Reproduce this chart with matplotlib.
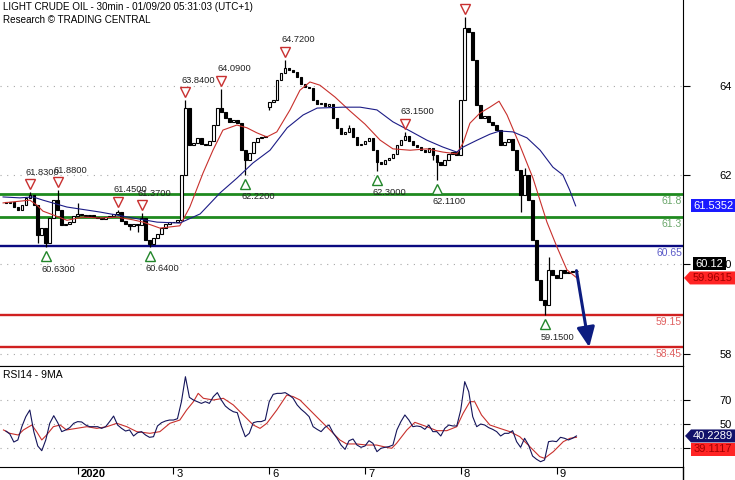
import matplotlib
matplotlib.use("Agg")
import matplotlib.pyplot as plt
import numpy as np
from matplotlib.lines import Line2D
from matplotlib.patches import Polygon
from matplotlib.transforms import IdentityTransform, offset_copy

plt.rcParams["font.family"] = ["Liberation Sans", "DejaVu Sans"]

W, H, DPI = 735, 480, 100

TITLE = "LIGHT CRUDE OIL - 30min - 01/09/20 05:31:03 (UTC+1)"
SUBTITLE = "Research \u00a9 TRADING CENTRAL"
RSI_TITLE = "RSI14 - 9MA"

# hourly bars, hour 0 = start of the "2020" session
FIRST_BAR = -18
FIRST_OPEN = 61.62
close = [
    61.60, 61.62, 61.51, 61.45, 61.55, 61.71, 61.77, 61.55, 60.90, 61.05, 60.72, 61.27,
    61.66, 61.45, 61.12, 61.14, 61.18, 61.31, 61.36, 61.34, 61.31, 61.34, 61.29, 61.27,
    61.25, 61.29, 61.31, 61.36, 61.40, 61.20, 61.14, 61.10, 61.14, 61.12, 61.27, 60.79,
    60.70, 60.83, 60.92, 61.05, 61.14, 61.18, 61.18, 61.23, 62.21, 63.67, 62.86, 62.91,
    63.02, 62.89, 62.86, 62.95, 63.30, 63.67, 63.58, 63.45, 63.37, 63.41, 63.34, 62.75,
    62.54, 62.69, 62.93, 63.02, 63.04, 63.06, 63.80, 63.85, 64.28, 64.44, 64.55, 64.50,
    64.46, 64.35, 64.20, 64.13, 64.11, 63.85, 63.76, 63.78, 63.72, 63.76, 63.45, 63.24,
    63.10, 63.15, 63.24, 63.04, 62.86, 62.89, 62.95, 63.02, 62.75, 62.49, 62.45, 62.54,
    62.58, 62.67, 62.86, 62.97, 63.06, 62.95, 62.86, 62.82, 62.75, 62.71, 62.80, 62.65,
    62.49, 62.43, 62.54, 62.67, 62.71, 62.65, 63.85, 65.42, 65.33, 64.72, 63.74, 63.45,
    63.50, 63.37, 63.30, 63.19, 62.86, 62.93, 63.00, 62.75, 62.32, 61.77, 62.21, 61.66,
    60.79, 59.92, 59.48, 59.37, 60.13, 60.03, 59.96, 60.13, 60.07, 60.09, 60.11, 60.12,
]
gap_open = {48: 63.70}
wick_high = {-12: 61.83, -5: 61.88, 0: 61.60, 10: 61.45, 16: 61.37, 27: 63.84, 36: 64.09,
             52: 64.72, 68: 63.30, 82: 63.15, 97: 65.66, 112: 62.36, 118: 60.42}
wick_low = {-10: 60.72, -8: 60.63, 13: 61.01, 15: 60.96, 18: 60.64, 42: 62.22, 48: 63.63,
            75: 62.30, 89: 62.54, 90: 62.11, 111: 61.40, 117: 59.15}

red_ma_t = [-18.7, -12.0, -10.2, -8.7, -5.0, -2.7, 1.3, 5.6, 9.8, 13.9, 16.4, 20.6, 25.6,
            28.1, 31.4, 33.9, 36.4, 39.9, 42.4, 44.9, 47.4, 49.9, 53.2, 55.7, 58.2, 60.7,
            64.5, 68.2, 72.0, 75.8, 79.0, 83.3, 87.5, 91.5, 95.0, 96.6, 98.3, 100.8, 103.3,
            105.6, 107.6, 110.8, 114.1, 117.6, 120.1, 122.6, 125.1]
red_ma = [61.60, 61.66, 61.55, 61.42, 61.30, 61.22, 61.29, 61.27, 61.29, 61.23, 61.18, 61.05,
          61.10, 61.51, 62.25, 62.75, 63.19, 63.30, 63.24, 63.13, 63.04, 63.15, 63.63, 64.06,
          64.24, 64.17, 63.91, 63.61, 63.32, 62.97, 62.78, 62.75, 62.78, 62.71, 62.67, 62.91,
          63.34, 63.56, 63.69, 63.82, 63.52, 62.86, 62.14, 61.18, 60.64, 60.14, 59.9615]
blue_ma_t = [-18.7, -14.5, -11.2, -8.7, -2.7, 5.6, 13.9, 19.9, 25.6, 30.7, 35.7, 39.9, 43.9,
             48.2, 52.5, 56.5, 60.0, 66.5, 70.8, 75.0, 79.0, 83.3, 87.5, 91.5, 95.0, 96.6,
             100.1, 103.3, 105.8, 109.1, 112.6, 115.9, 119.1, 121.6, 123.3, 124.8]
blue_ma = [61.73, 61.71, 61.73, 61.66, 61.51, 61.40, 61.27, 61.18, 61.16, 61.36, 61.82, 62.14,
           62.47, 62.75, 63.24, 63.52, 63.67, 63.69, 63.69, 63.63, 63.37, 63.17, 62.97, 62.82,
           62.71, 62.82, 62.97, 63.10, 63.17, 63.15, 63.02, 62.75, 62.38, 62.21, 61.88, 61.5352]

rsi = [
    44.3, 41.8, 35.2, 36.9, 47.9, 56.2, 61.7, 43.8, 31.9, 28.0, 36.9, 50.7,
    57.0, 51.2, 43.8, 45.2, 47.1, 50.7, 52.1, 51.8, 49.3, 47.9, 47.9, 47.9,
    46.5, 47.9, 52.1, 56.7, 49.3, 46.5, 44.3, 45.2, 40.2, 42.9, 43.8, 41.0,
    39.1, 39.6, 48.5, 51.2, 52.6, 53.4, 53.4, 54.5, 68.6, 89.3, 72.2, 70.0,
    68.6, 67.2, 68.6, 67.2, 72.8, 76.1, 70.0, 65.0, 62.3, 60.3, 59.5, 48.5,
    39.6, 42.4, 51.2, 52.1, 52.1, 53.4, 68.6, 74.7, 75.5, 75.5, 76.1, 74.1,
    71.4, 65.9, 62.3, 59.5, 56.2, 47.9, 45.7, 43.8, 47.4, 49.3, 42.9, 38.3,
    32.7, 29.1, 36.3, 37.7, 32.7, 30.8, 31.9, 36.3, 34.1, 27.2, 30.0, 30.8,
    31.4, 32.7, 45.2, 52.1, 57.6, 53.4, 47.9, 48.5, 47.9, 45.7, 49.3, 43.8,
    43.8, 40.2, 46.5, 49.3, 48.5, 48.5, 61.7, 85.2, 76.9, 56.2, 47.9, 50.1,
    49.3, 47.1, 45.7, 43.8, 40.2, 42.4, 42.4, 44.6, 35.5, 30.8, 38.3, 32.7,
    23.6, 20.9, 18.9, 20.3, 35.5, 36.0, 35.5, 39.1, 38.3, 36.9, 38.3, 40.2289,
]
rsi_ma_t = [-18.6, -17.0, -14.9, -13.6, -11.5, -10.3, -9.0, -7.8, -6.1, -4.4, -2.8, -0.3,
            2.3, 4.8, 7.3, 9.8, 12.3, 14.8, 18.1, 20.6, 23.1, 25.6, 27.3, 29.0, 30.2, 31.5,
            34.0, 36.5, 39.0, 41.5, 44.0, 45.7, 47.4, 49.9, 52.4, 54.0, 55.7, 58.2, 60.7,
            63.2, 65.7, 67.4, 69.9, 72.4, 74.9, 77.4, 78.7, 79.9, 82.5, 84.5, 87.5, 90.0,
            92.5, 95.0, 96.6, 98.3, 99.5, 101.2, 103.3, 105.8, 108.3, 110.8, 113.3, 115.8,
            117.0, 119.2, 121.7, 123.4, 125.0]
rsi_ma = [45.2, 42.4, 41.0, 45.2, 49.3, 43.8, 36.9, 41.0, 47.9, 49.3, 45.2, 46.5, 47.9, 46.5,
          47.9, 50.7, 47.9, 43.8, 42.4, 43.8, 50.7, 53.4, 61.7, 68.6, 75.5, 71.4, 70.0, 71.4,
          65.9, 57.6, 49.3, 46.5, 50.7, 61.7, 74.1, 72.8, 70.0, 61.7, 53.4, 45.2, 36.9, 33.6,
          33.6, 32.7, 32.7, 30.8, 30.0, 34.1, 45.2, 51.5, 47.9, 44.6, 44.6, 47.9, 59.0, 68.6,
          68.6, 57.6, 49.3, 46.5, 43.8, 39.6, 31.4, 23.1, 21.7, 27.2, 35.5, 38.3, 39.1117]

# swing markers; the last peak sits at the top edge, so its price label is off the chart
peak_bars = [-12, -5, 10, 16, 27, 36, 52, 82, 97]
peak_vals = [61.83, 61.88, 61.45, 61.37, 63.84, 64.09, 64.72, 63.15, 65.66]
peak_labeled = [True, True, True, True, True, True, True, True, False]
trough_bars = [-8, 18, 42, 75, 90, 117]
trough_vals = [60.63, 60.64, 62.22, 62.30, 62.11, 59.15]

levels = [61.8, 61.3, 60.65, 59.15, 58.45]
level_labels = ["61.8", "61.3", "60.65", "59.15", "58.45"]
level_colors = ["#1e8a1e", "#1e8a1e", "#0a0a80", "#d02020", "#d02020"]
level_text_colors = ["#6aa66a", "#6aa66a", "#5a5ac8", "#e06060", "#e06060"]
target = (128.2, 58.45)

day_ticks = [0, 24, 48, 72, 96, 120]
day_labels = ["2020", "3", "6", "7", "8", "9"]
price_ticks = [64.15, 62.21, 60.27, 58.30]
price_tick_labels = ["64", "62", "60", "58"]
rsi_ticks = [70, 50, 30]


def value_tag(fig, ax, value, text, face, fg, x0, x1, pointed=False, nudge=0):
    y = ax.transData.transform((0, value))[1] - nudge
    h = 6.5
    if pointed:
        pts = [(x0, y), (x0 + 6, y + h), (x1, y + h), (x1, y - h), (x0 + 6, y - h)]
        cx = (x0 + 6 + x1) / 2
    else:
        pts = [(x0, y + h), (x1, y + h), (x1, y - h), (x0, y - h)]
        cx = (x0 + x1) / 2
    fig.add_artist(Polygon(pts, closed=True, transform=IdentityTransform(),
                           facecolor=face, edgecolor="none", zorder=5))
    fig.text(cx, y, text, transform=IdentityTransform(), ha="center", va="center",
             color=fg, fontsize=8, zorder=6)


fig = plt.figure(figsize=(W / DPI, H / DPI), dpi=DPI)
ax = fig.add_axes([0, 114 / H, 683 / W, 366 / H])
ax2 = fig.add_axes([0, 13 / H, 683 / W, 101 / H])

# ---- price panel
t = np.arange(FIRST_BAR, FIRST_BAR + len(close))
c = np.array(close)
o = np.r_[FIRST_OPEN, c[:-1]]
for k, v in gap_open.items():
    o[k - FIRST_BAR] = v
hi = np.maximum(o, c)
lo = np.minimum(o, c)
for k, v in wick_high.items():
    hi[k - FIRST_BAR] = max(hi[k - FIRST_BAR], v)
for k, v in wick_low.items():
    lo[k - FIRST_BAR] = min(lo[k - FIRST_BAR], v)

for lv, col in zip(levels, level_colors):
    ax.axhline(lv, color=col, lw=2.0 if col == "#1e8a1e" else 1.7, zorder=2)
ax.vlines(t, lo, hi, color="black", lw=0.9, zorder=3)
up = c >= o
ax.bar(t[up], (c - o)[up], bottom=o[up], width=0.65, facecolor="white",
       edgecolor="black", lw=0.8, zorder=4)
ax.bar(t[~up], (c - o)[~up], bottom=o[~up], width=0.65, color="black",
       edgecolor="black", lw=0.8, zorder=4)
ax.plot(red_ma_t, red_ma, color="#c8302c", lw=0.8, zorder=5)
ax.plot(blue_ma_t, blue_ma, color="#1c1c86", lw=0.8, zorder=5)

ax.annotate("", xy=target, xytext=(t[-1], c[-1]), zorder=6,
            arrowprops=dict(arrowstyle="-|>,head_width=0.45,head_length=1.0",
                            color="#0c1c80", lw=2.2, shrinkA=0, shrinkB=0,
                            mutation_scale=12))

up_mark = offset_copy(ax.transData, fig=fig, x=0, y=8, units="dots")
up_text = offset_copy(ax.transData, fig=fig, x=-4, y=20, units="dots")
dn_mark = offset_copy(ax.transData, fig=fig, x=0, y=-9, units="dots")
dn_text = offset_copy(ax.transData, fig=fig, x=-4, y=-22, units="dots")
ax.plot(peak_bars, peak_vals, "v", ms=7, mfc="white", mec="#c83030", mew=1.0,
        transform=up_mark, zorder=6, clip_on=False)
ax.plot(trough_bars, trough_vals, "^", ms=7, mfc="white", mec="#22862a", mew=1.0,
        transform=dn_mark, zorder=6, clip_on=False)
for b, v, show in zip(peak_bars, peak_vals, peak_labeled):
    if show:
        ax.text(b, v, f"{v:.4f}", transform=up_text, ha="left", va="center",
                fontsize=6.7, color="#222222", zorder=6)
for b, v in zip(trough_bars, trough_vals):
    ax.text(b, v, f"{v:.4f}", transform=dn_text, ha="left", va="center",
            fontsize=6.7, color="#222222", zorder=6)

lab_tr = offset_copy(ax.get_yaxis_transform(), fig=fig, x=-1, y=-7, units="dots")
for lv, lab, col in zip(levels, level_labels, level_text_colors):
    ax.text(1.0, lv, lab, transform=lab_tr, ha="right", va="center",
            fontsize=7.5, color=col, zorder=6)

ax.set_xlim(-19.47, 151.7)
ax.set_ylim(58.039, 66.030)
ax.yaxis.tick_right()
ax.set_yticks(price_ticks)
ax.set_yticklabels(price_tick_labels)
ax.tick_params(axis="y", length=5, pad=21, labelsize=8)
ax.tick_params(axis="x", bottom=False, labelbottom=False)
ax.grid(axis="y", ls=(0, (1, 5)), color="#a8a8a8", lw=0.8)
for s in ("left", "top"):
    ax.spines[s].set_visible(False)

fig.text(3 / W, 1 - 7 / H, TITLE, ha="left", va="center", fontsize=7.1)
fig.text(3 / W, 1 - 20 / H, SUBTITLE, ha="left", va="center", fontsize=7.1)

# ---- RSI panel
ax2.plot(rsi_ma_t, rsi_ma, color="#c8302c", lw=0.8, zorder=3)
ax2.plot(t, rsi, color="#14145a", lw=0.8, zorder=4)
ax2.set_xlim(-19.47, 151.7)
ax2.set_ylim(14.51, 98.16)
ax2.yaxis.tick_right()
ax2.set_yticks(rsi_ticks)
ax2.tick_params(axis="y", length=5, pad=21, labelsize=8)
ax2.grid(axis="y", ls=(0, (1, 5)), color="#a8a8a8", lw=0.8)
ax2.set_xticks(day_ticks)
ax2.tick_params(axis="x", length=5, labelbottom=False)
ax2.spines["left"].set_visible(False)
day_tr = offset_copy(ax2.get_xaxis_transform(), fig=fig, x=3, y=-7, units="dots")
for d, lab in zip(day_ticks, day_labels):
    ax2.text(d, 0, lab, transform=day_tr, ha="left", va="center", fontsize=8,
             fontweight="bold" if lab == "2020" else "normal")
ax2.text(3 / 683, 1 - 9 / 101, RSI_TITLE, transform=ax2.transAxes, ha="left",
         va="center", fontsize=7.5)

fig.add_artist(Line2D([683, 683], [0, 13], transform=IdentityTransform(),
                      color="black", lw=1))

value_tag(fig, ax, blue_ma[-1], f"{blue_ma[-1]:.4f}", "#1a1aff", "white", 691, 735)
value_tag(fig, ax, c[-1], f"{c[-1]:.2f}", "black", "white", 693, 726, nudge=-7)
value_tag(fig, ax, red_ma[-1], f"{red_ma[-1]:.4f}", "#ff2424", "#a00000", 684, 735,
          pointed=True)
value_tag(fig, ax2, rsi[-1], f"{rsi[-1]:.4f}", "#12126a", "white", 685, 735, pointed=True)
value_tag(fig, ax2, rsi_ma[-1], f"{rsi_ma[-1]:.4f}", "#ff2424", "#a00000", 691, 735,
          nudge=12)

fig.savefig("out.png", dpi=DPI)
